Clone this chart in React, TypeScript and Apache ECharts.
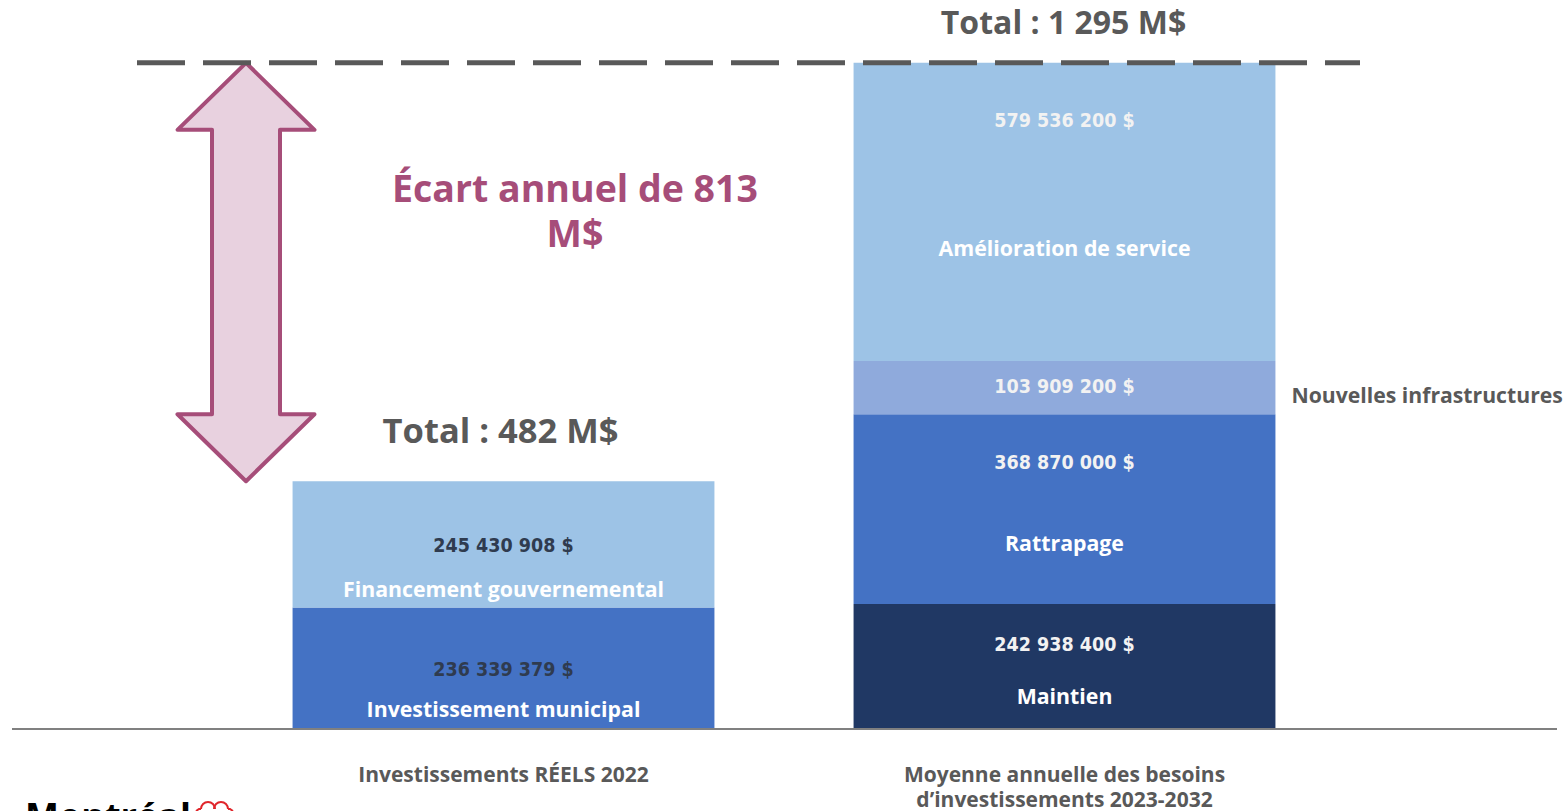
import React, { useEffect, useRef } from 'react';
import * as echarts from 'echarts';

// ---- data ----
const categories = ['Investissements RÉELS 2022', 'Moyenne annuelle des besoins\nd’investissements 2023-2032'];
const reelsNames = ['Investissement municipal', 'Financement gouvernemental'];
const reelsValues = [236339379, 245430908];
const besoinsNames = ['Maintien', 'Rattrapage', 'Nouvelles infrastructures', 'Amélioration de service'];
const besoinsValues = [242938400, 368870000, 103909200, 579536200];
const yMax = 1400000000;

// ---- styles ----
const reelsColors = ['#4472C4', '#9DC3E6'];
const besoinsColors = ['#203864', '#4472C4', '#8FAADC', '#9DC3E6'];
const reelsValueColor = '#2F3B4F';
const besoinsValueColor = '#F2F2F2';
// [distance from segment top to value line top, spacer between value and name]
const reelsLabelLayout = [[50, 15], [52, 19]];
const besoinsLabelLayout = [[28, 27], [36, 56], [14, 0], [46, 103]];
const besoinsNameInside = [true, true, false, true];

const VALUE_FONT = '"Liberation Sans Narrow", "DejaVu Sans Condensed", "Open Sans", sans-serif';
const NAME_FONT = '"Open Sans", sans-serif';
const GRAY = '#595959';
const MAGENTA = '#A64D79';

const sum = (a: number[]) => a.reduce((s, v) => s + v, 0);
const fmtDollars = (v: number) => String(v).replace(/\B(?=(\d{3})+(?!\d))/g, ' ') + ' $';
const fmtM = (v: number) => String(Math.round(v / 1e6)).replace(/\B(?=(\d{3})+(?!\d))/g, ' ');

function makeLabel(value: number, name: string, p: number, s: number, valueColor: string, showName: boolean) {
  return {
    show: true,
    position: ['50%', p],
    align: 'center',
    verticalAlign: 'top',
    formatter: showName ? `{v|${fmtDollars(value)}}\n{s| }\n{n|${name}}` : `{v|${fmtDollars(value)}}`,
    rich: {
      v: { fontFamily: VALUE_FONT, fontWeight: 'bold', fontSize: 19.5, lineHeight: 24, color: valueColor, align: 'center' },
      s: { fontSize: 2, lineHeight: Math.max(s, 1), align: 'center' },
      n: { fontFamily: NAME_FONT, fontWeight: 'bold', fontSize: 21.3, lineHeight: 24, color: '#FFFFFF', align: 'center' },
    },
  };
}

export default function App() {
  const ref = useRef<HTMLDivElement>(null);

  useEffect(() => {
    if (!ref.current) return;
    const chart = echarts.init(ref.current, undefined, { renderer: 'svg' });

    const reelsTotal = sum(reelsValues);
    const besoinsTotal = sum(besoinsValues);
    const ecart = Math.round(besoinsTotal / 1e6) - Math.round(reelsTotal / 1e6);
    const nouvellesMid = besoinsValues[0] + besoinsValues[1] + besoinsValues[2] / 2;

    const series: any[] = [];
    for (let i = 0; i < besoinsValues.length; i++) {
      const data: any[] = [];
      if (i < reelsValues.length) {
        data.push({
          value: reelsValues[i],
          itemStyle: { color: reelsColors[i] },
          label: makeLabel(reelsValues[i], reelsNames[i], reelsLabelLayout[i][0], reelsLabelLayout[i][1], reelsValueColor, true),
        });
      } else {
        data.push('-');
      }
      data.push({
        value: besoinsValues[i],
        itemStyle: { color: besoinsColors[i] },
        label: makeLabel(besoinsValues[i], besoinsNames[i], besoinsLabelLayout[i][0], besoinsLabelLayout[i][1], besoinsValueColor, besoinsNameInside[i]),
      });

      const markData: any[] = [];
      if (i === reelsValues.length - 1) {
        markData.push({
          coord: [0, reelsTotal],
          label: {
            formatter: `Total : ${fmtM(reelsTotal)} M$`,
            offset: [-3, -52],
            fontSize: 34.5,
          },
        });
      }
      if (i === besoinsValues.length - 1) {
        markData.push({
          coord: [1, besoinsTotal],
          label: {
            formatter: `Total : ${fmtM(besoinsTotal)} M$`,
            offset: [-1, -41],
            fontSize: 32,
          },
        });
      }
      if (!besoinsNameInside[i]) {
        markData.push({
          coord: [1, nouvellesMid],
          label: {
            formatter: besoinsNames[i],
            align: 'left',
            offset: [227, 7],
            fontSize: 21.2,
          },
        });
      }

      series.push({
        type: 'bar',
        stack: 'total',
        name: i < reelsNames.length ? reelsNames[i] + ' / ' + besoinsNames[i] : besoinsNames[i],
        barWidth: '75.2%',
        data,
        markPoint: markData.length
          ? {
              symbol: 'rect',
              symbolSize: 1,
              itemStyle: { color: 'rgba(0,0,0,0)' },
              label: {
                show: true,
                position: 'inside',
                color: GRAY,
                fontFamily: NAME_FONT,
                fontWeight: 'bold',
              },
              data: markData,
            }
          : undefined,
      });
    }

    chart.setOption({
      animation: false,
      backgroundColor: '#FFFFFF',
      grid: { left: 223, right: 223, top: 9, bottom: 80, containLabel: false },
      xAxis: {
        type: 'category',
        data: categories,
        axisLine: { show: false },
        axisTick: { show: false },
        axisLabel: {
          color: GRAY,
          fontFamily: NAME_FONT,
          fontWeight: 'bold',
          fontSize: 21,
          lineHeight: 25,
          margin: 32,
          interval: 0,
        },
      },
      yAxis: {
        type: 'value',
        min: 0,
        max: yMax,
        show: false,
        splitLine: { show: false },
      },
      series,
    });

    const px = (v: number) => (chart.convertToPixel({ gridIndex: 0 }, [0, v]) as number[])[1];
    const yTop = px(besoinsTotal);
    const yRe = px(reelsTotal);
    const yBase = px(0);

    const cx = 246;
    const hw = 68.5;
    const sw = 34;
    const hh = 67;

    const ecartStyle = {
      fill: MAGENTA,
      fontFamily: NAME_FONT,
      fontWeight: 'bold',
      fontSize: 37.5,
      align: 'center',
      verticalAlign: 'middle',
    };

    chart.setOption({
      graphic: [
        {
          type: 'polygon',
          z: 20,
          shape: {
            points: [
              [cx, yTop],
              [cx + hw, yTop + hh],
              [cx + sw, yTop + hh],
              [cx + sw, yRe - hh],
              [cx + hw, yRe - hh],
              [cx, yRe],
              [cx - hw, yRe - hh],
              [cx - sw, yRe - hh],
              [cx - sw, yTop + hh],
              [cx - hw, yTop + hh],
            ],
          },
          style: { fill: '#E8D1DF', stroke: MAGENTA, lineWidth: 4, lineJoin: 'round' },
        },
        {
          type: 'line',
          z: 30,
          shape: { x1: 137, y1: yTop, x2: 1360, y2: yTop },
          style: { stroke: GRAY, lineWidth: 5, lineDash: [48, 18], lineCap: 'butt' },
        },
        {
          type: 'line',
          z: 30,
          shape: { x1: 12, y1: yBase, x2: 1557, y2: yBase },
          style: { stroke: '#808080', lineWidth: 2 },
        },
        {
          type: 'text',
          z: 30,
          x: 575,
          y: 187,
          style: { ...ecartStyle, text: `Écart annuel de ${ecart}` },
        },
        {
          type: 'text',
          z: 30,
          x: 575,
          y: 232,
          style: { ...ecartStyle, text: 'M$' },
        },
        {
          type: 'text',
          z: 30,
          x: 25,
          y: 797,
          style: {
            text: 'Montréal',
            fill: '#000000',
            fontFamily: NAME_FONT,
            fontWeight: 'bold',
            fontSize: 36,
            align: 'left',
            verticalAlign: 'top',
          },
        },
        {
          type: 'arc',
          z: 30,
          shape: { cx: 208, cy: 809, r: 7, startAngle: Math.PI, endAngle: 2 * Math.PI },
          style: { stroke: '#E0262B', lineWidth: 2, fill: 'none' },
        },
        {
          type: 'arc',
          z: 30,
          shape: { cx: 221, cy: 809, r: 7, startAngle: Math.PI, endAngle: 2 * Math.PI },
          style: { stroke: '#E0262B', lineWidth: 2, fill: 'none' },
        },
        {
          type: 'polyline',
          z: 30,
          shape: { points: [[196, 811], [199, 809], [201, 809]] },
          style: { stroke: '#E0262B', lineWidth: 2, fill: 'none' },
        },
        {
          type: 'polyline',
          z: 30,
          shape: { points: [[228, 809], [230, 809], [233, 811]] },
          style: { stroke: '#E0262B', lineWidth: 2, fill: 'none' },
        },
      ],
    });

    return () => {
      chart.dispose();
    };
  }, []);

  return (
    <div
      ref={ref}
      style={{ position: 'absolute', left: 0, top: 0, width: 1568, height: 811 }}
    />
  );
}
